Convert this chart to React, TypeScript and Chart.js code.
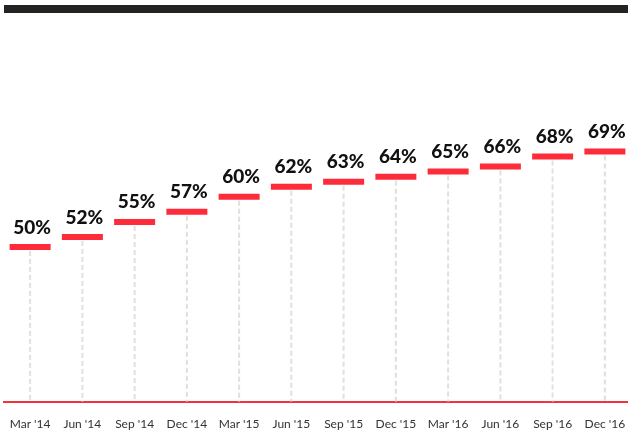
import React, { useEffect, useRef } from "react";
import { Chart, registerables } from "chart.js";

Chart.register(...registerables);

const categories = [
  "Mar '14", "Jun '14", "Sep '14", "Dec '14",
  "Mar '15", "Jun '15", "Sep '15", "Dec '15",
  "Mar '16", "Jun '16", "Sep '16", "Dec '16",
];
const shareValues = [50, 52, 55, 57, 60, 62, 63, 64, 65, 66, 68, 69];
const yMin = 19.3;
const yMax = 99.1;

const RED = "#fe2c3b";

const dropLinesPlugin = {
  id: "dropLines",
  beforeDatasetsDraw(chart: any) {
    const { ctx, chartArea } = chart;
    const meta = chart.getDatasetMeta(0);
    ctx.save();
    ctx.strokeStyle = "#e0e0e0";
    ctx.lineWidth = 2;
    ctx.setLineDash([5, 3]);
    meta.data.forEach((pt: any) => {
      ctx.beginPath();
      ctx.moveTo(pt.x, pt.y + 4);
      ctx.lineTo(pt.x, chartArea.bottom);
      ctx.stroke();
    });
    ctx.restore();
  },
};

const valueLabelsPlugin = {
  id: "valueLabels",
  afterDatasetsDraw(chart: any) {
    const { ctx } = chart;
    const meta = chart.getDatasetMeta(0);
    const data = chart.data.datasets[0].data as number[];
    ctx.save();
    ctx.fillStyle = "#111";
    ctx.font = "900 19px Lato";
    ctx.textAlign = "center";
    ctx.textBaseline = "alphabetic";
    meta.data.forEach((pt: any, i: number) => {
      ctx.fillText(`${data[i]}%`, pt.x + 2, pt.y - 13.5);
    });
    ctx.restore();
  },
};

export default function App() {
  const ref = useRef<HTMLCanvasElement | null>(null);

  useEffect(() => {
    document.body.style.margin = "0";
    document.body.style.overflow = "hidden";
    const canvas = ref.current;
    if (!canvas) return;
    const chart = new Chart(canvas, {
      type: "line",
      data: {
        labels: categories,
        datasets: [
          {
            data: shareValues,
            showLine: false,
            pointStyle: "line",
            pointRadius: 20.5,
            pointHoverRadius: 20.5,
            pointBorderWidth: 6,
            pointHoverBorderWidth: 6,
            pointBorderColor: RED,
            pointBackgroundColor: RED,
            borderColor: RED,
            clip: false,
          },
        ],
      },
      options: {
        responsive: false,
        animation: false,
        devicePixelRatio: 1,
        events: [],
        layout: { autoPadding: false, padding: { left: 4, right: 4, top: 0, bottom: 3 } },
        plugins: {
          legend: { display: false },
          tooltip: { enabled: false },
        },
        scales: {
          x: {
            type: "category",
            offset: true,
            grid: { display: false, drawTicks: true, tickLength: 15 },
            border: { display: true, color: "#f0333d", width: 2 },
            ticks: {
              padding: 0,
              color: "#333",
              font: { family: "Lato", size: 12 },
              maxRotation: 0,
              autoSkip: false,
            },
            afterFit(scale: any) {
              scale.paddingLeft = 0;
              scale.paddingRight = 0;
            },
          },
          y: {
            display: false,
            min: yMin,
            max: yMax,
          },
        },
      },
      plugins: [dropLinesPlugin, valueLabelsPlugin],
    });
    return () => chart.destroy();
  }, []);

  return (
    <div style={{ position: "relative", width: 628, height: 434, overflow: "hidden", background: "#fff" }}>
      <canvas
        ref={ref}
        width={635}
        height={434}
        style={{ position: "absolute", left: 0, top: 0, width: 635, height: 434 }}
      />
      <div
        style={{ position: "absolute", left: 4, top: 5, width: 624, height: 8, background: "#232321" }}
      />
    </div>
  );
}
